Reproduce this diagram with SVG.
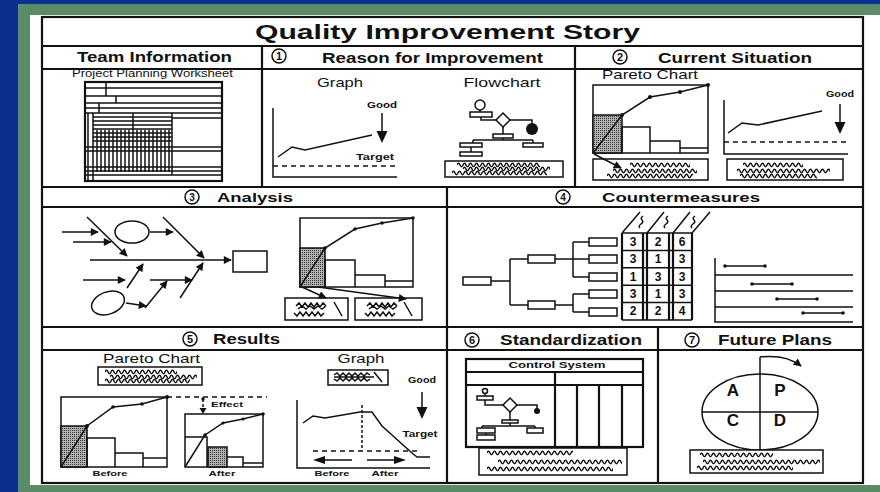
<svg xmlns="http://www.w3.org/2000/svg" xmlns:xlink="http://www.w3.org/1999/xlink" width="880" height="492" viewBox="0 0 880 492">
<style>
.ln{stroke:#111;fill:none;stroke-width:1.5}
.th{stroke:#111;fill:none;stroke-width:2.2}
.bx{stroke:#111;fill:#fff;stroke-width:1.5}
.fl{fill:#111;stroke:none}
.sh{fill:url(#dots);stroke:#111;stroke-width:1.5}
.ds{stroke:#111;fill:none;stroke-width:1.5;stroke-dasharray:5 4}
.t{font-family:"Liberation Sans",Arial,Helvetica,sans-serif;fill:#111}
.b{font-weight:bold}
.h{font-size:14px;font-weight:bold}
.s{font-size:9px;font-weight:bold}
.m{font-size:13px}
.c{text-anchor:middle}
.wv{stroke:#111;fill:none;stroke-width:1.5}
</style>
<defs>
<pattern id="dots" width="2" height="2" patternUnits="userSpaceOnUse"><rect width="2" height="2" fill="#b0b0b0"/><rect width="1" height="1" fill="#3a3a3a"/></pattern>
<marker id="ah" viewBox="0 0 10 10" refX="9" refY="5" markerWidth="9" markerHeight="8" orient="auto" markerUnits="userSpaceOnUse"><path d="M0,0 L10,5 L0,10 z" fill="#111"/></marker>
<path id="wave" class="wv" d="M0,3 q1.5,-3.4 3,0 t3,0 t3,0 t3,0 t3,0 t3,0 t3,0 t3,0 t3,0 t3,0 t3,0 t3,0 t3,0 t3,0 t3,0 t3,0 t3,0 t3,0 t3,0 t3,0 t3,0 t3,0 t3,0 t3,0 t3,0 t3,0 t3,0 t3,0 t3,0 t3,0 t3,0 t3,0 t3,0 t3,0 t3,0 t3,0 t3,0 t3,0 t3,0 t3,0 t3,0 t3,0 t3,0 t3,0 t3,0"/>
</defs>

<!-- background -->
<rect x="0" y="0" width="880" height="492" fill="#0a2f8e"/>
<rect x="18" y="4" width="862" height="488" fill="#5b8b69"/>
<rect x="30" y="15" width="850" height="470" fill="#ffffff"/>

<!-- frame -->
<g id="frame">
<rect x="42" y="17" width="821" height="466" class="th"/>
<path class="th" d="M42,46 H863 M42,69 H863 M42,187 H863 M42,207 H863 M42,327 H863 M42,350 H863 M262,46 V187 M575,46 V187 M447,187 V483 M658,327 V483"/>
<text class="t b" x="255" y="39" font-size="21" textLength="385" lengthAdjust="spacingAndGlyphs">Quality Improvement Story</text>
</g>

<!-- Team Information -->
<g id="team-information">
<text class="t h" x="77" y="62" textLength="155" lengthAdjust="spacingAndGlyphs">Team Information</text>
<text class="t" x="72" y="77" font-size="10" textLength="161" lengthAdjust="spacingAndGlyphs">Project Planning Worksheet</text>
<rect x="85" y="82" width="137" height="99" class="th"/>
<path class="ln" stroke-width="1.3" d="M85,88 H222 M85,96 H222 M85,103 H222 M85,108 H222 M106,82 V96 M116,96 V103 M99,103 V113 M88,113 V181 M93,113 V181 M172,113 V175 M133,113 V130 M93,117 H172 M93,121 H172 M93,125 H172 M93,129 H172 M93,133 H172 M93,137 H172 M93,141 H172 M172,118 H222 M85,147 H222 M85,151 H222 M85,167 H222 M85,171 H222 M85,175 H222"/>
<path class="ln" stroke-width="2" d="M85,113 H222"/>
<path class="ln" stroke-width="1.2" d="M97,130 V172 M101,130 V172 M105,130 V172 M109,130 V172 M113,130 V172 M117,130 V172 M121,130 V172 M125,130 V172 M129,130 V172 M133,130 V172 M137,130 V172 M141,130 V172 M145,130 V172 M149,130 V172 M153,130 V172 M157,130 V172 M161,130 V172 M165,130 V172 M169,130 V172"/>
</g>

<!-- 1 Reason for Improvement -->
<g id="reason-for-improvement">
<circle cx="279" cy="56" r="7" class="ln"/>
<text class="t b c" x="279" y="60" font-size="11">1</text>
<text class="t h" x="322" y="63" textLength="221" lengthAdjust="spacingAndGlyphs">Reason for Improvement</text>
<text class="t m c" x="340" y="87" textLength="46" lengthAdjust="spacingAndGlyphs">Graph</text>
<path class="ln" d="M273,108 V177 H397"/>
<path class="ds" d="M273,166 H397"/>
<polyline class="ln" points="278,157 292,147 305,150 372,135"/>
<text class="t s c" x="382" y="108" textLength="30" lengthAdjust="spacingAndGlyphs">Good</text>
<path class="ln" d="M382,113 V133"/>
<polygon class="fl" points="376.5,131 387.5,131 382,143"/>
<text class="t s c" x="375" y="160" textLength="38" lengthAdjust="spacingAndGlyphs">Target</text>
<text class="t m c" x="502" y="87" textLength="77" lengthAdjust="spacingAndGlyphs">Flowchart</text>
<circle cx="480" cy="105" r="5" class="bx"/>
<path class="ln" d="M480,110 V112 M481,117 V120 H496 M510,120 H532 V123 M503,127 V134 M503,138 V140 M473,140 H533 M473,140 V143 M471,147 V152 M533,140 V143"/>
<rect x="470" y="112" width="22" height="5" class="bx"/>
<polygon points="503,113 510,120 503,127 496,120" class="bx"/>
<circle cx="532" cy="129" r="6" class="fl"/>
<rect x="493" y="134" width="20" height="4" class="bx"/>
<rect x="460" y="143" width="22" height="4" class="bx"/>
<rect x="460" y="152" width="22" height="4" class="bx"/>
<rect x="523" y="143" width="20" height="4" class="bx"/>
<rect x="445" y="161" width="118" height="16" class="bx"/>
<svg x="457" y="162" width="83" height="6"><use href="#wave"/></svg>
<svg x="463" y="166" width="87" height="6"><use href="#wave"/></svg>
<svg x="452" y="170" width="95" height="6"><use href="#wave"/></svg>
</g>

<!-- 2 Current Situation -->
<g id="current-situation">
<circle cx="620" cy="57" r="7" class="ln"/>
<text class="t b c" x="620" y="61" font-size="11">2</text>
<text class="t h" x="658" y="63" textLength="154" lengthAdjust="spacingAndGlyphs">Current Situation</text>
<text class="t m" x="602" y="79" textLength="96" lengthAdjust="spacingAndGlyphs">Pareto Chart</text>
<rect x="593" y="85" width="115" height="68" class="ln" stroke-width="2"/>
<rect x="593" y="115" width="29" height="38" class="sh"/>
<path class="ln" d="M622,153 V127 H650 V153 M650,141 H680 V153 M680,148 H708"/>
<polyline class="ln" stroke-width="1.8" points="593,153 622,115 650,97 680,92 708,85"/>
<g class="fl"><circle cx="622" cy="115" r="2"/><circle cx="650" cy="97" r="2"/><circle cx="680" cy="92" r="2"/><circle cx="708" cy="85" r="2"/></g>
<rect x="593" y="159" width="115" height="21" class="bx"/>
<line x1="594" y1="154" x2="621" y2="168" class="ln" stroke-width="1.8" marker-end="url(#ah)"/>
<svg x="630" y="162" width="60" height="6"><use href="#wave"/></svg>
<svg x="613" y="168" width="84" height="6"><use href="#wave"/></svg>
<svg x="607" y="173" width="86" height="6"><use href="#wave"/></svg>
<path class="ln" d="M724,100 V154 H848"/>
<path class="ds" d="M724,142 H848"/>
<polyline class="ln" points="728,133 742,123 758,125 822,111"/>
<text class="t s c" x="840" y="97" textLength="28" lengthAdjust="spacingAndGlyphs">Good</text>
<path class="ln" d="M840,104 V124"/>
<polygon class="fl" points="834.5,122 845.5,122 840,134"/>
<rect x="727" y="159" width="116" height="21" class="bx"/>
<svg x="743" y="162" width="60" height="6"><use href="#wave"/></svg>
<svg x="737" y="168" width="93" height="6"><use href="#wave"/></svg>
<svg x="740" y="173" width="77" height="6"><use href="#wave"/></svg>
</g>

<!-- 3 Analysis -->
<g id="analysis">
<circle cx="192" cy="197" r="7" class="ln"/>
<text class="t b c" x="192" y="201" font-size="10">3</text>
<text class="t b" x="217" y="202" font-size="13" textLength="76" lengthAdjust="spacingAndGlyphs">Analysis</text>
<g class="ln" stroke-width="1.8">
<line x1="90" y1="260" x2="231" y2="260" marker-end="url(#ah)"/>
<line x1="87" y1="217" x2="127" y2="256" marker-end="url(#ah)"/>
<line x1="163" y1="217" x2="204" y2="258" marker-end="url(#ah)"/>
<line x1="62" y1="232" x2="98" y2="232" marker-end="url(#ah)"/>
<line x1="73" y1="242" x2="111" y2="242" marker-end="url(#ah)"/>
<line x1="150" y1="232" x2="173" y2="232" marker-end="url(#ah)"/>
<line x1="127" y1="288" x2="143" y2="264" marker-end="url(#ah)"/>
<line x1="83" y1="280" x2="125" y2="280" marker-end="url(#ah)"/>
<line x1="180" y1="298" x2="203" y2="263" marker-end="url(#ah)"/>
<line x1="150" y1="280" x2="192" y2="280" marker-end="url(#ah)"/>
<line x1="145" y1="308" x2="167" y2="281" marker-end="url(#ah)"/>
<line x1="126" y1="303" x2="146" y2="306" marker-end="url(#ah)"/>
<ellipse cx="132" cy="232" rx="17" ry="11"/>
<ellipse cx="108" cy="303" rx="17" ry="11" transform="rotate(-20 108 303)"/>
</g>
<rect x="233" y="251" width="34" height="21" class="bx" stroke-width="1.8"/>
<rect x="300" y="218" width="113" height="69" class="ln" stroke-width="2"/>
<rect x="300" y="248" width="25" height="39" class="sh"/>
<path class="ln" d="M325,287 V260 H355 V287 M355,275 H385 V287 M385,281 H413"/>
<polyline class="ln" stroke-width="1.8" points="300,287 325,248 355,229 382,223 413,218"/>
<g class="fl"><circle cx="325" cy="248" r="1.8"/><circle cx="355" cy="229" r="1.8"/><circle cx="382" cy="223" r="1.8"/><circle cx="413" cy="218" r="1.8"/></g>
<rect x="285" y="298" width="63" height="22" class="bx"/>
<rect x="355" y="298" width="67" height="22" class="bx"/>
<line x1="302" y1="287" x2="326" y2="298" class="ln" stroke-width="1.8" marker-end="url(#ah)"/>
<line x1="318" y1="287" x2="406" y2="299" class="ln" stroke-width="1.8" marker-end="url(#ah)"/>
<path class="ln" stroke-width="1.3" d="M296,306 l3,-3 l3,4 l3,-4 l3,4 l3,-4 l3,4 l3,-4 l3,4 l3,-4 l3,3 M294,313 l3,3 l3,-4 l3,4 l3,-4 l3,4 l3,-4 l3,4 l3,-4 l3,4 l3,-3 M298,309 l4,-3 l4,3 l4,-3 l4,3 l4,-3 l4,3 l4,-3 M334,302 l8,14"/>
<path class="ln" stroke-width="1.3" d="M367,306 l3,-3 l3,4 l3,-4 l3,4 l3,-4 l3,4 l3,-4 l3,4 l3,-4 l3,3 M365,313 l3,3 l3,-4 l3,4 l3,-4 l3,4 l3,-4 l3,4 l3,-4 l3,4 l3,-3 M369,309 l4,-3 l4,3 l4,-3 l4,3 l4,-3 l4,3 l4,-3 M404,302 l8,14"/>
</g>

<!-- 4 Countermeasures -->
<g id="countermeasures">
<circle cx="563" cy="197" r="7" class="ln"/>
<text class="t b c" x="563" y="201" font-size="10">4</text>
<text class="t b" x="602" y="202" font-size="13" textLength="158" lengthAdjust="spacingAndGlyphs">Countermeasures</text>
<path class="ln" d="M491,281 H510 M510,259 V305 M510,259 H528 M510,305 H528 M555,259 H573 M573,242 V277 M573,242 H589 M573,259 H589 M573,277 H589 M555,305 H573 M573,294 V312 M573,294 H589 M573,312 H589"/>
<g class="bx">
<rect x="463" y="277" width="28" height="8"/>
<rect x="528" y="255" width="27" height="8"/>
<rect x="528" y="301" width="27" height="8"/>
<rect x="589" y="238" width="28" height="8"/>
<rect x="589" y="255" width="28" height="8"/>
<rect x="589" y="273" width="28" height="8"/>
<rect x="589" y="290" width="28" height="8"/>
<rect x="589" y="308" width="28" height="8"/>
</g>
<path class="th" d="M622,233 V320 M643,233 V320 M647,233 V320 M669,233 V320 M673,233 V320 M692,233 V320"/>
<path class="ln" d="M622,233 H692 M622,250.4 H692 M622,267.8 H692 M622,285.2 H692 M622,302.6 H692 M622,320 H692"/>
<path class="ln" d="M622,233 L640,212 M647,233 L664,212 M673,233 L690,212 M692,233 L710,212"/>
<path class="ln" stroke-width="1.1" d="M643,216 q-3,2 -1,4 q2,2 -1,4 q-3,2 -1,4 M668,216 q-3,2 -1,4 q2,2 -1,4 q-3,2 -1,4 M695,216 q-3,2 -1,4 q2,2 -1,4 q-3,2 -1,4"/>
<g class="t b c" font-size="12">
<text x="633" y="246">3</text><text x="658" y="246">2</text><text x="682" y="246">6</text>
<text x="633" y="263">3</text><text x="658" y="263">1</text><text x="682" y="263">3</text>
<text x="633" y="281">1</text><text x="658" y="281">3</text><text x="682" y="281">3</text>
<text x="633" y="298">3</text><text x="658" y="298">1</text><text x="682" y="298">3</text>
<text x="633" y="315">2</text><text x="658" y="315">2</text><text x="682" y="315">4</text>
</g>
<path class="ln" d="M715,258 V322 H853 M715,275 H853 M715,291 H853 M715,307 H853"/>
<path class="ln" d="M725,266 H765 M752,284 H792 M777,299 H817 M803,313 H843"/>
<g class="fl"><circle cx="725" cy="266" r="1.8"/><circle cx="765" cy="266" r="1.8"/><circle cx="752" cy="284" r="1.8"/><circle cx="792" cy="284" r="1.8"/><circle cx="777" cy="299" r="1.8"/><circle cx="817" cy="299" r="1.8"/><circle cx="803" cy="313" r="1.8"/><circle cx="843" cy="313" r="1.8"/></g>
</g>

<!-- 5 Results -->
<g id="results">
<circle cx="190" cy="339" r="7" class="ln"/>
<text class="t b c" x="190" y="343" font-size="11">5</text>
<text class="t h" x="213" y="344" textLength="67" lengthAdjust="spacingAndGlyphs">Results</text>
<text class="t m" x="103" y="363" textLength="97" lengthAdjust="spacingAndGlyphs">Pareto Chart</text>
<rect x="98" y="367" width="104" height="18" class="bx"/>
<svg x="105" y="369" width="72" height="6"><use href="#wave"/></svg>
<svg x="110" y="374" width="87" height="6"><use href="#wave"/></svg>
<svg x="105" y="378" width="85" height="6"><use href="#wave"/></svg>
<rect x="61" y="397" width="106" height="70" class="ln" stroke-width="2"/>
<rect x="61" y="426" width="26" height="41" class="sh"/>
<path class="ln" d="M87,467 V438 H115 V467 M115,453 H143 V467 M143,458 H167"/>
<polyline class="ln" stroke-width="1.8" points="61,467 87,426 113,407 142,404 167,397"/>
<g class="fl"><circle cx="87" cy="426" r="2"/><circle cx="113" cy="407" r="1.8"/><circle cx="142" cy="404" r="1.8"/><circle cx="167" cy="397" r="2"/></g>
<path class="ds" d="M167,397 H267"/>
<path class="ln" stroke-dasharray="3 2" d="M203,399 V408"/>
<rect x="201.5" y="397.5" width="3" height="3" class="fl"/>
<polygon class="fl" points="199.5,408 206.5,408 203,414"/>
<text class="t c b" x="227" y="407" font-size="8" textLength="32" lengthAdjust="spacingAndGlyphs">Effect</text>
<rect x="185" y="414" width="78" height="53" class="ln" stroke-width="2"/>
<path class="ln" d="M185,437 H207 V467"/>
<rect x="208" y="447" width="19" height="20" class="sh"/>
<path class="ln" d="M227,457 H243 V467 M243,463 H263"/>
<polyline class="ln" stroke-width="1.8" points="185,467 205,435 223,423 243,419 263,414"/>
<g class="fl"><circle cx="205" cy="435" r="1.8"/><circle cx="223" cy="423" r="1.6"/><circle cx="243" cy="419" r="1.6"/><circle cx="263" cy="414" r="1.8"/></g>
<text class="t c b" x="110" y="476" font-size="8" textLength="35" lengthAdjust="spacingAndGlyphs">Before</text>
<text class="t c b" x="222" y="476" font-size="8" textLength="27" lengthAdjust="spacingAndGlyphs">After</text>
<text class="t m c" x="361" y="363" textLength="47" lengthAdjust="spacingAndGlyphs">Graph</text>
<rect x="328" y="370" width="60" height="15" class="bx"/>
<path class="ln" stroke-width="1.2" d="M334,375 l3,-2 l3,3 l3,-3 l3,3 l3,-3 l3,3 l3,-3 l3,3 l3,-3 l3,3 l3,-3 l3,2 M334,379 l3,2 l3,-3 l3,3 l3,-3 l3,3 l3,-3 l3,3 l3,-3 l3,3 l3,-3 l3,3 l3,-2 M334,377 h40 M374,372 l8,10"/>
<path class="ln" d="M297,400 V468 H430"/>
<polyline class="ln" stroke-width="1.6" points="303,423 313,416 325,418 360,412 372,412 382,426 412,453 417,457 430,457"/>
<path class="ln" stroke-dasharray="3 2" d="M362,405 V450"/>
<path class="ds" d="M313,451 H418"/>
<path class="ln" stroke-width="2" d="M352,460 H322 M367,460 H397"/>
<polygon class="fl" points="313,460 325,456 325,464"/>
<polygon class="fl" points="406,460 394,456 394,464"/>
<text class="t s c" x="422" y="383" textLength="28" lengthAdjust="spacingAndGlyphs">Good</text>
<path class="ln" d="M422,392 V409"/>
<polygon class="fl" points="416.5,407 427.5,407 422,419"/>
<text class="t s c" x="420" y="437" textLength="35" lengthAdjust="spacingAndGlyphs">Target</text>
<text class="t c b" x="332" y="476" font-size="8" textLength="35" lengthAdjust="spacingAndGlyphs">Before</text>
<text class="t c b" x="385" y="476" font-size="8" textLength="27" lengthAdjust="spacingAndGlyphs">After</text>
</g>

<!-- 6 Standardization -->
<g id="standardization">
<circle cx="472" cy="340" r="7" class="ln"/>
<text class="t b c" x="472" y="344" font-size="11">6</text>
<text class="t h" x="500" y="345" textLength="142" lengthAdjust="spacingAndGlyphs">Standardization</text>
<rect x="466" y="359" width="177" height="88" class="th"/>
<path class="th" d="M466,372 H643 M466,385 H643 M555,372 V447 M577,385 V447 M599,385 V447 M622,385 V447"/>
<text class="t s c" x="557" y="368" textLength="97" lengthAdjust="spacingAndGlyphs">Control System</text>
<circle cx="485" cy="391" r="2.5" class="bx" stroke-width="1.2"/>
<path class="ln" stroke-width="1.2" d="M485,393.5 V396 M485,400 V405 H503 M517,405 H537 V409 M510,412 V420 M510,423 V426 M482,426 H535 M482,426 V428 M486,433 V435 M535,426 V428"/>
<rect x="477" y="396" width="16" height="4" class="bx" stroke-width="1.2"/>
<polygon points="510,398 517,405 510,412 503,405" class="bx" stroke-width="1.2"/>
<circle cx="537" cy="411" r="3" class="fl"/>
<rect x="502" y="420" width="16" height="3" class="bx" stroke-width="1.2"/>
<rect x="477" y="428" width="18" height="5" class="bx" stroke-width="1.2"/>
<rect x="477" y="435" width="18" height="5" class="bx" stroke-width="1.2"/>
<rect x="527" y="428" width="16" height="5" class="bx" stroke-width="1.2"/>
<rect x="479" y="448" width="148" height="27" class="bx" stroke-width="1.8"/>
<svg x="487" y="450" width="86" height="6"><use href="#wave"/></svg>
<svg x="498" y="459" width="124" height="6"><use href="#wave"/></svg>
<svg x="487" y="466" width="126" height="6"><use href="#wave"/></svg>
</g>

<!-- 7 Future Plans -->
<g id="future-plans">
<circle cx="692" cy="340" r="7" class="ln"/>
<text class="t b c" x="692" y="344" font-size="11">7</text>
<text class="t h" x="718" y="345" textLength="114" lengthAdjust="spacingAndGlyphs">Future Plans</text>
<ellipse cx="760" cy="412" rx="58" ry="38" class="ln" stroke-width="1.8"/>
<path class="ln" stroke-width="1.8" d="M760,357 V450 M702,412 H818"/>
<path class="ln" stroke-width="1.8" d="M760,357 Q786,354 801,366" marker-end="url(#ah)"/>
<g class="t b c" font-size="17">
<text x="733" y="396">A</text><text x="780" y="396">P</text>
<text x="733" y="426">C</text><text x="780" y="426">D</text>
</g>
<rect x="690" y="450" width="133" height="23" class="bx" stroke-width="1.8"/>
<svg x="700" y="452" width="73" height="6"><use href="#wave"/></svg>
<svg x="703" y="459" width="117" height="6"><use href="#wave"/></svg>
<svg x="697" y="465" width="96" height="6"><use href="#wave"/></svg>
</g>

<g id="connectors"></g>
</svg>
